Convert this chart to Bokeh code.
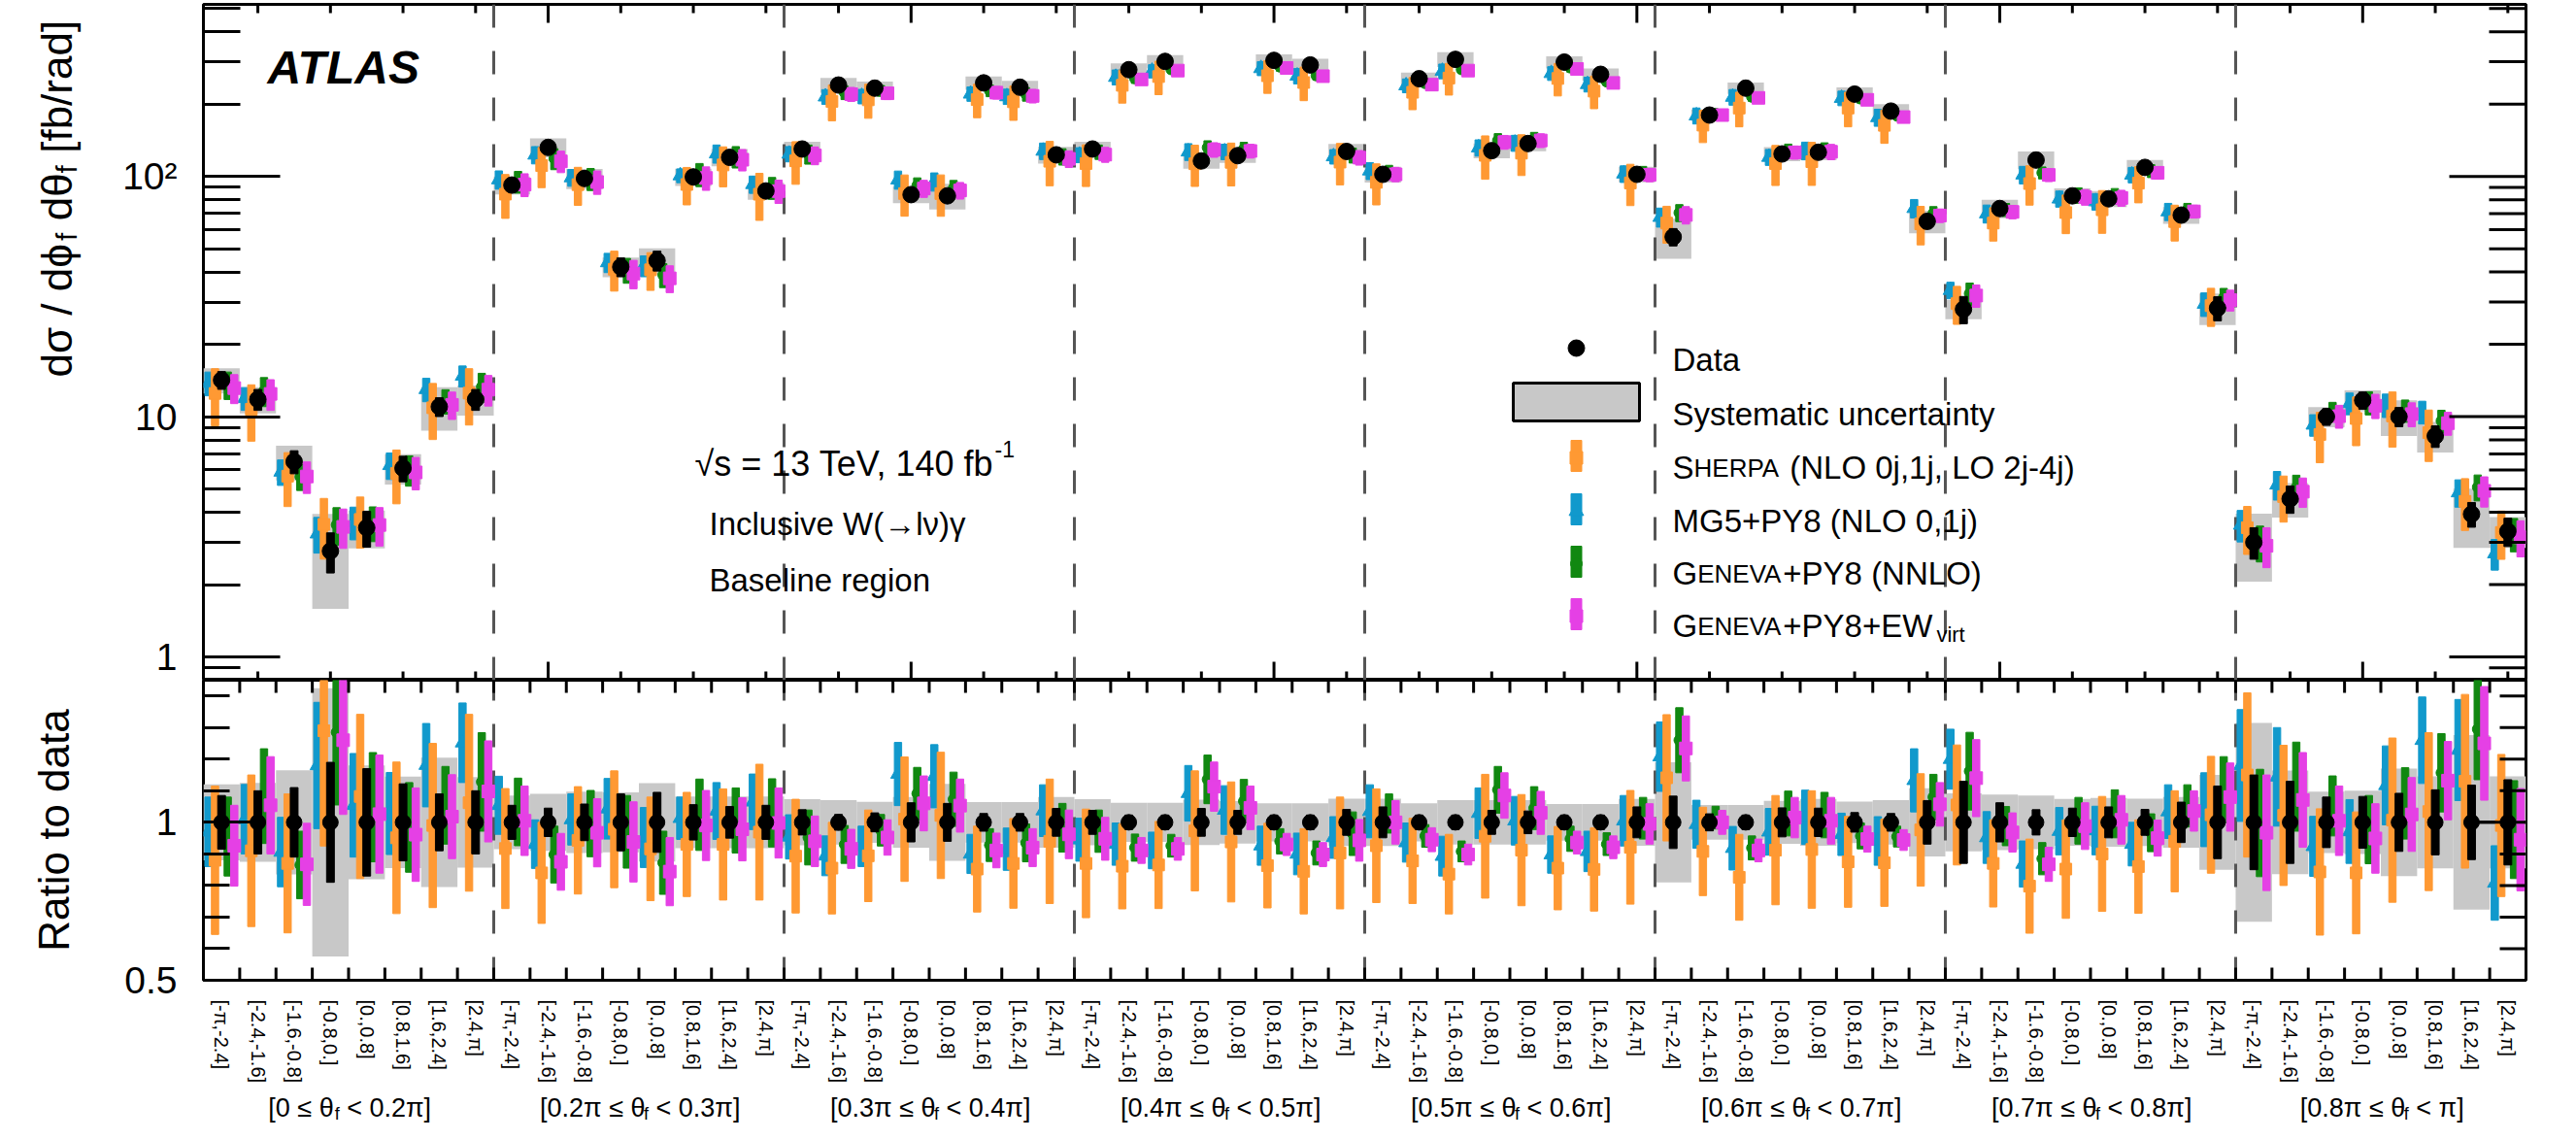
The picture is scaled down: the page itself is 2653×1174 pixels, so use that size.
import math
from bokeh.plotting import figure
from bokeh.models import Range1d, FixedTicker, LinearAxis, LogAxis, Label
from bokeh.layouts import column, row
from bokeh.embed import file_html
from bokeh.resources import INLINE

# ---------------- data ----------------
PHI_BINS = ["[-π,-2.4]", "[-2.4,-1.6]", "[-1.6,-0.8]", "[-0.8,0.]",
            "[0.,0.8]", "[0.8,1.6]", "[1.6,2.4]", "[2.4,π]"]
THETA_EDGES = ["0", "0.2π", "0.3π", "0.4π", "0.5π", "0.6π", "0.7π", "0.8π", "π"]

data = [14.2, 11.8, 6.5, 2.76, 3.45, 6.1, 11.0, 11.8,
        92, 132, 98, 42, 44.6, 99.5, 120, 87,
        130, 240, 233, 84, 83, 245, 235, 123,
        130, 278, 301, 116, 122, 304, 291, 127,
        102, 255, 307, 128, 137, 299, 266, 102,
        56, 180, 233, 124, 126, 220, 187, 65,
        28, 73.5, 117, 83, 80.7, 109, 69, 28.3,
        3.0, 4.55, 10.0, 11.7, 10.0, 8.3, 3.93, 3.33]

data_stat = [0.085, 0.10, 0.11, 0.19, 0.17, 0.122, 0.09, 0.10,
             0.054, 0.045, 0.058, 0.09, 0.095, 0.056, 0.05, 0.054,
             0.04, 0.025, 0.03, 0.062, 0.06, 0.028, 0.028, 0.044,
             0.038, 0.023, 0.023, 0.044, 0.038, 0.023, 0.023, 0.041,
             0.049, 0.023, 0.023, 0.038, 0.036, 0.023, 0.023, 0.049,
             0.083, 0.027, 0.023, 0.046, 0.045, 0.031, 0.028, 0.069,
             0.13, 0.062, 0.04, 0.045, 0.049, 0.041, 0.064, 0.115,
             0.15, 0.13, 0.08, 0.082, 0.092, 0.103, 0.118, 0.135]

syst = [0.12, 0.125, 0.165, 0.425, 0.18, 0.145, 0.205, 0.143,
        0.085, 0.09, 0.097, 0.095, 0.124, 0.082, 0.082, 0.082,
        0.073, 0.07, 0.065, 0.08, 0.122, 0.064, 0.064, 0.08,
        0.073, 0.062, 0.062, 0.072, 0.067, 0.06, 0.06, 0.075,
        0.075, 0.06, 0.07, 0.07, 0.07, 0.058, 0.058, 0.074,
        0.19, 0.055, 0.055, 0.068, 0.074, 0.066, 0.07, 0.108,
        0.092, 0.088, 0.085, 0.074, 0.077, 0.075, 0.08, 0.15,
        0.315, 0.164, 0.097, 0.10, 0.17, 0.146, 0.276, 0.146]

mg5 = [0.97, 1.01, 0.906, 1.18, 1.054, 1.028, 1.181, 1.252,
       1.054, 0.931, 1.009, 1.043, 0.952, 1.013, 1.036, 1.065,
       0.954, 0.894, 0.924, 1.153, 1.146, 0.90, 0.915, 1.037,
       0.945, 0.931, 0.911, 1.092, 1.039, 0.926, 0.90, 0.952,
       1.035, 0.936, 0.893, 1.029, 1.005, 0.898, 0.908, 1.005,
       1.208, 0.994, 0.918, 0.97, 1.016, 0.962, 0.941, 1.133,
       1.20, 0.952, 0.868, 0.972, 0.974, 0.931, 1.034, 1.04,
       1.18, 1.144, 0.924, 0.971, 1.117, 1.26, 1.229, 0.808]
mg5_err = [0.11, 0.11, 0.11, 0.20, 0.164, 0.13, 0.132, 0.126,
           0.092, 0.077, 0.081, 0.096, 0.095, 0.067, 0.09, 0.088,
           0.07, 0.063, 0.064, 0.10, 0.10, 0.062, 0.067, 0.082,
           0.068, 0.067, 0.058, 0.088, 0.077, 0.062, 0.066, 0.066,
           0.084, 0.062, 0.063, 0.08, 0.077, 0.059, 0.064, 0.08,
           0.11, 0.076, 0.069, 0.074, 0.086, 0.067, 0.077, 0.10,
           0.095, 0.082, 0.073, 0.075, 0.077, 0.069, 0.085, 0.117,
           0.177, 0.156, 0.095, 0.101, 0.125, 0.137, 0.16, 0.118]

sherpa = [0.88, 0.91, 0.87, 1.29, 1.082, 0.951, 0.99, 1.062,
          0.917, 0.84, 0.943, 0.978, 0.916, 0.93, 0.93, 0.969,
          0.893, 0.855, 0.894, 1.01, 1.022, 0.852, 0.87, 0.94,
          0.87, 0.861, 0.865, 0.973, 0.938, 0.863, 0.845, 0.903,
          0.926, 0.878, 0.836, 0.956, 0.912, 0.855, 0.851, 0.921,
          1.141, 0.908, 0.826, 0.912, 0.914, 0.875, 0.872, 0.976,
          1.055, 0.87, 0.798, 0.852, 0.90, 0.86, 0.94, 1.024,
          1.15, 1.022, 0.843, 0.84, 1.007, 1.034, 1.13, 0.99]
sherpa_err = [0.235, 0.24, 0.22, 0.365, 0.26, 0.24, 0.26, 0.28,
              0.19, 0.16, 0.17, 0.185, 0.164, 0.165, 0.176, 0.215,
              0.18, 0.145, 0.145, 0.197, 0.20, 0.136, 0.142, 0.197,
              0.172, 0.135, 0.138, 0.19, 0.19, 0.134, 0.135, 0.177,
              0.18, 0.135, 0.126, 0.196, 0.176, 0.132, 0.132, 0.18,
              0.20, 0.14, 0.136, 0.173, 0.186, 0.144, 0.138, 0.178,
              0.19, 0.138, 0.149, 0.156, 0.182, 0.148, 0.16, 0.185,
              0.26, 0.222, 0.20, 0.193, 0.26, 0.25, 0.275, 0.225]

geneva = [0.955, 1.083, 0.865, 1.285, 1.048, 0.984, 1.054, 1.128,
          1.033, 0.898, 0.996, 0.97, 0.872, 1.024, 1.006, 1.03,
          0.952, 0.93, 0.975, 1.091, 1.073, 0.928, 0.935, 0.983,
          0.972, 0.92, 0.926, 1.136, 1.067, 0.94, 0.903, 0.964,
          1.028, 0.957, 0.908, 1.103, 1.045, 0.948, 0.931, 1.013,
          1.26, 1.015, 0.919, 1.028, 1.023, 0.957, 0.955, 1.08,
          1.162, 0.988, 0.885, 1.005, 1.027, 0.967, 1.052, 1.103,
          0.998, 1.113, 1.052, 0.977, 1.06, 1.157, 1.295, 0.977]
geneva_err = [0.125, 0.15, 0.107, 0.23, 0.173, 0.142, 0.123, 0.156,
              0.107, 0.09, 0.105, 0.115, 0.10, 0.113, 0.103, 0.108,
              0.087, 0.06, 0.05, 0.083, 0.086, 0.052, 0.06, 0.077,
              0.067, 0.043, 0.036, 0.077, 0.069, 0.04, 0.038, 0.069,
              0.062, 0.036, 0.033, 0.074, 0.068, 0.04, 0.036, 0.066,
              0.103, 0.036, 0.038, 0.071, 0.072, 0.041, 0.033, 0.072,
              0.123, 0.062, 0.051, 0.074, 0.076, 0.06, 0.067, 0.105,
              0.17, 0.141, 0.095, 0.108, 0.113, 0.124, 0.16, 0.155]

geneva_ew = [0.926, 1.054, 0.867, 1.26, 1.026, 0.961, 1.018, 1.098,
             1.005, 0.875, 0.967, 0.938, 0.844, 0.99, 0.978, 0.998,
             0.94, 0.916, 0.952, 1.06, 1.053, 0.911, 0.92, 0.962,
             0.948, 0.911, 0.916, 1.113, 1.046, 0.93, 0.898, 0.943,
             1.0, 0.945, 0.898, 1.085, 1.03, 0.936, 0.921, 0.995,
             1.234, 1.0, 0.911, 1.015, 1.005, 0.947, 0.944, 1.057,
             1.14, 0.968, 0.867, 0.988, 1.008, 0.95, 1.036, 1.08,
             0.967, 1.071, 1.005, 0.949, 1.025, 1.132, 1.25, 0.945]
geneva_ew_err = [0.128, 0.154, 0.13, 0.235, 0.187, 0.148, 0.133, 0.16,
                 0.11, 0.09, 0.108, 0.127, 0.108, 0.111, 0.10, 0.111,
                 0.08, 0.062, 0.056, 0.087, 0.084, 0.055, 0.06, 0.077,
                 0.068, 0.041, 0.036, 0.078, 0.069, 0.035, 0.038, 0.066,
                 0.069, 0.038, 0.033, 0.072, 0.068, 0.036, 0.036, 0.064,
                 0.103, 0.038, 0.036, 0.064, 0.074, 0.041, 0.033, 0.069,
                 0.122, 0.062, 0.054, 0.074, 0.077, 0.057, 0.064, 0.108,
                 0.183, 0.15, 0.11, 0.11, 0.117, 0.124, 0.18, 0.162]

# ---------------- geometry / style ----------------
FONT = "Liberation Sans"
N = len(data)
NPHI = len(PHI_BINS)
PAGE_W = 2637
FL, FR = 217, 2609          # page px of frame left/right
FT, FB_TOP, FB_RAT = 12, 708, 1017
LAB_H = 108                 # space for rotated bin labels
GRP_TOP, GRP_BOT = FB_RAT + LAB_H, 1166
YT_W = 100                  # width of the strip holding the upper y title
BIN_PX = (FR - FL) / N
YMIN, YMAX = 0.8, 520.0
RMIN, RMAX = 0.5, 1.45
LY0, LY1 = math.log10(YMIN), math.log10(YMAX)
PPD = (FB_TOP - FT) / (LY1 - LY0)          # px per decade (top)
PPU = (FB_RAT - FB_TOP) / (RMAX - RMIN)    # px per unit (ratio)

GREY = "#c8c8c8"
ORANGE = "#ff9933"
BLUE = "#1199cc"
GREEN = "#118811"
MAGENTA = "#e540e5"

def xd(px):
    return 0.5 + (px - FL) / BIN_PX

def yt(py):
    return 10 ** (LY0 + (FB_TOP - py) / (FB_TOP - FT) * (LY1 - LY0))

AW = {' ': .278, '(': .333, ')': .333, '+': .584, ',': .278, '-': .333, '.': .278, '/': .278,
      '<': .584, '=': .584, '[': .278, ']': .278, '≤': .584, '→': 1.0, '√': .55,
      'σ': .6, 'ϕ': .65, 'θ': .556, 'π': .6, 'ν': .5, 'γ': .5,
      'A': .667, 'E': .667, 'G': .778, 'H': .722, 'I': .278, 'L': .556, 'M': .833, 'N': .722,
      'O': .778, 'P': .667, 'R': .722, 'S': .667, 'T': .611, 'V': .667, 'W': .944, 'Y': .667,
      'a': .556, 'b': .556, 'c': .5, 'd': .556, 'e': .556, 'f': .278, 'g': .556, 'i': .222,
      'j': .222, 'l': .222, 'm': .833, 'n': .556, 'o': .556, 'r': .333, 's': .5, 't': .278,
      'u': .556, 'v': .5, 'y': .5, 'x': .5}

def tw(s, size):
    return sum(AW.get(c, .556) for c in s) * size

def txt(p, x, y, s, size, align="left", baseline="alphabetic", angle=0.0, style="normal"):
    p.add_layout(Label(x=x, y=y, text=s, text_font=FONT, text_font_size=f"{size}px",
                       text_align=align, text_baseline=baseline, angle=angle,
                       text_font_style=style, text_color="black"))

def pieces_h(p, x, ybase, pieces, fx, fy):
    """horizontal run of text pieces (text, size, dy, extra gap) starting at page px x"""
    for s, size, dy, gap in pieces:
        x += gap + tw(" " * (len(s) - len(s.lstrip(" "))), size)
        s = s.strip(" ")
        txt(p, fx(x), fy(ybase + dy), s, size)
        x += tw(s, size)
    return x

def pieces_width(pieces):
    return sum(gap + tw(s, size) for s, size, dy, gap in pieces)

def style_axis(ax, major_in, minor_in, label_size):
    ax.axis_line_color = None
    ax.major_tick_in = major_in
    ax.major_tick_out = 0
    ax.minor_tick_in = minor_in
    ax.minor_tick_out = 0
    ax.major_tick_line_width = 3
    ax.minor_tick_line_width = 3
    ax.major_tick_line_color = "black"
    ax.minor_tick_line_color = "black"
    ax.major_label_text_font = FONT
    ax.major_label_text_font_size = label_size
    ax.major_label_text_color = "black"

def ticks(p, x0, x1, y0, y1):
    p.segment(x0=x0, x1=x1, y0=y0, y1=y1, line_color="black", line_width=3)

def blank(p):
    p.xgrid.visible = False
    p.ygrid.visible = False
    p.outline_line_color = None

xs = [i + 1 for i in range(N)]
group_bounds = [NPHI * g + 0.5 for g in range(1, len(THETA_EDGES) - 1)]
bin_edges = [i + 0.5 for i in range(1, N)]

models = [  # (values, errors, color, marker, x offset, size)
    (mg5, mg5_err, BLUE, "triangle", -0.36, 15),
    (sherpa, sherpa_err, ORANGE, "square", -0.18, 12),
    (geneva, geneva_err, GREEN, "circle", 0.17, 11),
    (geneva_ew, geneva_ew_err, MAGENTA, "square", 0.35, 13),
]
BARW = 7.5 / BIN_PX

base = dict(output_backend="svg", toolbar_location=None, title=None,
            x_axis_location=None, y_axis_location=None,
            background_fill_color="white", border_fill_color="white")
common = dict(min_border_right=PAGE_W - (FR - 8), **base)

# ---------------- upper-left strip: y title with subscripts ----------------
ytf = figure(frame_width=YT_W, frame_height=FB_TOP - 8, x_range=Range1d(8, 8 + YT_W),
             y_range=Range1d(FB_TOP, 8), min_border_left=0, min_border_right=0,
             min_border_top=0, min_border_bottom=0, **base)
blank(ytf)
ypos = 392
for s, size, dx in [("dσ / dϕ", 44, 0), ("f", 30, 10), (" dθ", 44, 0), ("f", 30, 10), (" [fb/rad]", 44, 0)]:
    ypos -= tw(" " * (len(s) - len(s.lstrip(" "))), size)
    s = s.strip(" ")
    txt(ytf, 66 + dx, ypos, s, size, angle=math.pi / 2)
    ypos -= tw(s, size)

# ---------------- top panel ----------------
xr = Range1d(0.5, N + 0.5)
top = figure(frame_width=FR - FL, frame_height=FB_TOP - FT, x_range=xr,
             y_range=Range1d(YMIN, YMAX), y_axis_type="log",
             min_border_left=FL - 8 - YT_W, min_border_top=FT - 8, min_border_bottom=0, **common)
top.xgrid.visible = False
top.ygrid.visible = False
top.outline_line_color = "black"
top.outline_line_width = 3
top.outline_line_alpha = 1.0

top.quad(left=[x - 0.5 for x in xs], right=[x + 0.5 for x in xs],
         bottom=[d * (1 - s) for d, s in zip(data, syst)],
         top=[d * (1 + s) for d, s in zip(data, syst)],
         fill_color=GREY, line_color=None)
top.segment(x0=group_bounds, x1=group_bounds, y0=[YMIN] * len(group_bounds),
            y1=[YMAX] * len(group_bounds), line_color="#555555", line_width=3, line_dash="24 24")
for vals, errs, col, mk, off, sz in models:
    xm = [x + off for x in xs]
    top.vbar(x=xm, width=BARW, bottom=[d * (r - e) for d, r, e in zip(data, vals, errs)],
             top=[d * (r + e) for d, r, e in zip(data, vals, errs)], color=col)
    top.scatter(x=xm, y=[d * r for d, r in zip(data, vals)], marker=mk, size=sz, color=col)
top.vbar(x=xs, width=8 / BIN_PX, bottom=[d * (1 - s) for d, s in zip(data, data_stat)],
         top=[d * (1 + s) for d, s in zip(data, data_stat)], color="black")
top.scatter(x=xs, y=data, marker="circle", size=17, color="black")

# inward tick marks on the top, bottom and right edges of the upper frame
major_x = [10 * i for i in range(1, N // 10 + 1)]
minor_x = [2 * i for i in range(1, N // 2 + 1) if (2 * i) % 10]
for tx, ln in [(major_x, 19), (minor_x, 9)]:
    f = 10 ** (ln / PPD)
    ticks(top, tx, tx, [YMAX] * len(tx), [YMAX / f] * len(tx))
    ticks(top, tx, tx, [YMIN] * len(tx), [YMIN * f] * len(tx))
log_major = [1, 10, 100]
log_minor = [0.9] + [m * 10 ** e for e in range(0, 3) for m in range(2, 10) if m * 10 ** e < YMAX]
for ty, ln in [(log_major, 79), (log_minor, 38)]:
    ticks(top, [N + 0.5] * len(ty), [N + 0.5 - ln / BIN_PX] * len(ty), ty, ty)

lax = LogAxis(ticker=FixedTicker(ticks=log_major, minor_ticks=log_minor))
style_axis(lax, 79, 38, "39px")
lax.major_label_overrides = {1: "1", 10: "10", 100: "10²"}
lax.major_label_standoff = 27
top.add_layout(lax, "left")

# ATLAS and info text
txt(top, xd(283), yt(77), "ATLAS", 48, style="bold italic")
pieces_h(top, 723, 485, [("√s = 13 TeV, 140 fb", 36, 0, 0), ("-1", 23, -15, -6)], xd, yt)
txt(top, xd(738), yt(547), "Inclusive W(→lν)γ", 33)
txt(top, xd(738), yt(605), "Baseline region", 33)

# legend
LMX, LTX = 1631, 1730
rows = [366, 422, 477, 532, 586, 640]
top.scatter(x=[xd(LMX)], y=[yt(rows[0])], marker="circle", size=17, color="black")
top.quad(left=[xd(1566)], right=[xd(1696)], top=[yt(rows[1] - 20)], bottom=[yt(rows[1] + 19)],
         fill_color=GREY, line_color="black", line_width=3)
leg_models = [(ORANGE, "square", 13), (BLUE, "triangle", 15), (GREEN, "circle", 12), (MAGENTA, "square", 13)]
for (col, mk, sz), ry in zip(leg_models, rows[2:]):
    top.vbar(x=[xd(LMX)], width=11 / BIN_PX, bottom=[yt(ry + 16)], top=[yt(ry - 16)], color=col)
    top.scatter(x=[xd(LMX)], y=[yt(ry + 2)], marker=mk, size=sz, color=col)

leg_text = [
    [("Data", 33, 0, 0)],
    [("Systematic uncertainty", 33, 0, 0)],
    [("S", 33, 0, 0), ("HERPA", 26, 0, 0), (" (NLO 0j,1j, LO 2j-4j)", 33, 0, 0)],
    [("MG5+PY8 (NLO 0,1j)", 33, 0, 0)],
    [("G", 33, 0, 0), ("ENEVA", 26, 0, 0), ("+PY8 (NNLO)", 33, 0, 0)],
    [("G", 33, 0, 0), ("ENEVA", 26, 0, 0), ("+PY8+EW", 33, 0, 0), ("virt", 22, 9, 4)],
]
for ry, pcs in zip(rows, leg_text):
    pieces_h(top, LTX, ry + 12, pcs, xd, yt)

# ---------------- ratio panel ----------------
rat = figure(frame_width=FR - FL, frame_height=FB_RAT - FB_TOP, x_range=xr,
             y_range=Range1d(RMIN, RMAX), min_border_left=FL - 8, min_border_top=0,
             min_border_bottom=LAB_H, **common)
rat.xgrid.visible = False
rat.ygrid.visible = False
rat.outline_line_color = "black"
rat.outline_line_width = 3
rat.outline_line_alpha = 1.0

rat.quad(left=[x - 0.5 for x in xs], right=[x + 0.5 for x in xs],
         bottom=[1 - s for s in syst], top=[1 + s for s in syst],
         fill_color=GREY, line_color=None)
rat.segment(x0=group_bounds, x1=group_bounds, y0=[RMIN] * len(group_bounds),
            y1=[RMAX] * len(group_bounds), line_color="#555555", line_width=3, line_dash="24 24")
rat.segment(x0=[xd(FL), xd(2559)], x1=[xd(264), xd(FR)], y0=[1, 1], y1=[1, 1],
            line_color="black", line_width=3)
for vals, errs, col, mk, off, sz in models:
    xm = [x + off for x in xs]
    rat.vbar(x=xm, width=BARW, bottom=[r - e for r, e in zip(vals, errs)],
             top=[r + e for r, e in zip(vals, errs)], color=col)
    rat.scatter(x=xm, y=vals, marker=mk, size=sz, color=col)
rat.vbar(x=xs, width=8 / BIN_PX, bottom=[1 - s for s in data_stat],
         top=[1 + s for s in data_stat], color="black")
rat.scatter(x=xs, y=[1.0] * N, marker="circle", size=16, color="black")

nE = len(bin_edges)
ticks(rat, bin_edges, bin_edges, [RMAX] * nE, [RMAX - 13 / PPU] * nE)
ticks(rat, bin_edges, bin_edges, [RMIN] * nE, [RMIN + 13 / PPU] * nE)
r_major = [0.5, 1.0]
r_minor = [0.6, 0.7, 0.8, 0.9, 1.1, 1.2, 1.3, 1.4]
for ty, ln in [(r_major, 50), (r_minor, 27)]:
    ticks(rat, [N + 0.5] * len(ty), [N + 0.5 - ln / BIN_PX] * len(ty), ty, ty)

ax_lab = LinearAxis(ticker=FixedTicker(ticks=xs, minor_ticks=[]))
style_axis(ax_lab, 0, 0, "20px")
ax_lab.major_tick_line_color = None
ax_lab.major_label_overrides = {x: PHI_BINS[(x - 1) % NPHI] for x in xs}
ax_lab.major_label_orientation = "vertical"
ax_lab.major_label_standoff = 20
rat.add_layout(ax_lab, "below")

ral = LinearAxis(ticker=FixedTicker(ticks=r_major, minor_ticks=r_minor))
style_axis(ral, 50, 27, "39px")
ral.major_label_overrides = {0.5: "0.5", 1.0: "1"}
ral.major_label_standoff = 27
ral.axis_label = "Ratio to data"
ral.axis_label_text_font = FONT
ral.axis_label_text_font_size = "44px"
ral.axis_label_text_font_style = "normal"
ral.axis_label_text_color = "black"
ral.axis_label_standoff = 45
rat.add_layout(ral, "left")

# ---------------- bottom strip: theta group labels ----------------
grp = figure(frame_width=FR - FL, frame_height=GRP_BOT - GRP_TOP, x_range=xr,
             y_range=Range1d(GRP_BOT, GRP_TOP), min_border_left=FL - 8, min_border_top=0,
             min_border_bottom=0, **common)
blank(grp)
for g in range(len(THETA_EDGES) - 1):
    cx = FL + (NPHI * g + NPHI / 2) * BIN_PX
    pcs = [(f"[{THETA_EDGES[g]} ≤ θ", 27, 0, 0), ("f", 18, 6, 0), (f" < {THETA_EDGES[g + 1]}]", 27, 0, 0)]
    pieces_h(grp, cx - pieces_width(pcs) / 2, 1147, pcs, xd, lambda v: v)

layout = column(row(ytf, top, spacing=0), rat, grp, spacing=0)
open("out.html", "w").write(file_html(layout, INLINE))
